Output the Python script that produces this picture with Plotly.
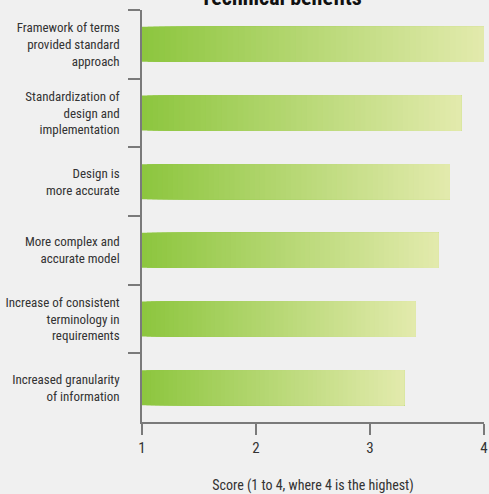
import plotly.graph_objects as go

categories = [
    "Framework of terms<br>provided standard<br>approach",
    "Standardization of<br>design and<br>implementation",
    "Design is<br>more accurate",
    "More complex and<br>accurate model",
    "Increase of consistent<br>terminology in<br>requirements",
    "Increased granularity<br>of information",
]
scores = [4.0, 3.8, 3.7, 3.6, 3.4, 3.3]
x_ticks = [1, 2, 3, 4]
title_text = "Technical benefits"
x_title = "Score (1 to 4, where 4 is the highest)"

BASE = 1.0
N = 60
c0 = (141, 198, 63)
c1 = (226, 234, 172)
FONT = "Liberation Sans Narrow, Arial Narrow, Roboto Condensed, DejaVu Sans Condensed, sans-serif"

fig = go.Figure()
for k in range(N):
    t = k / (N - 1)
    col = "rgb({},{},{})".format(*[round(a + (b - a) * t) for a, b in zip(c0, c1)])
    fig.add_trace(go.Bar(
        y=categories,
        x=[(v - BASE) * (1 - k / N) for v in scores],
        base=[BASE + (v - BASE) * k / N for v in scores],
        orientation="h",
        width=0.51,
        marker=dict(color=col, line=dict(width=0)),
        hoverinfo="skip",
        showlegend=False,
    ))

fig.update_layout(
    width=489, height=494,
    margin=dict(l=142, r=5, t=10, b=72, autoexpand=False),
    paper_bgcolor="#f0f0f0",
    plot_bgcolor="#f0f0f0",
    barmode="overlay",
    font=dict(family=FONT, color="#333333", size=13),
    title=dict(
        text="<b>" + title_text + "</b>",
        x=281 / 489, xanchor="center", xref="container",
        y=1 - 5 / 494, yanchor="bottom", yref="container",
        font=dict(family=FONT, size=22, color="#111111"),
    ),
)
fig.update_xaxes(
    range=[1, 4], tickvals=x_ticks, ticktext=[str(v) for v in x_ticks],
    automargin=False,
    showgrid=False, zeroline=False,
    showline=True, linecolor="#7a7a7a", linewidth=1.5,
    ticks="outside", ticklen=11, tickcolor="#7a7a7a", tickwidth=1.5,
    tickfont=dict(size=15, color="#333333"),
    ticklabeloverflow="allow",
    title=dict(text=x_title, font=dict(size=14, color="#333333"), standoff=26),
)
fig.update_yaxes(
    categoryorder="array", categoryarray=categories, autorange="reversed",
    automargin=False,
    showgrid=False, zeroline=False,
    showline=True, linecolor="#7a7a7a", linewidth=1.5,
    ticks="outside", tickson="boundaries", ticklen=12,
    tickcolor="#7a7a7a", tickwidth=1.5,
    tickfont=dict(size=13, color="#333333"),
    ticklabelstandoff=18,
)

fig.write_html(
    "out.html",
    config={"displayModeBar": False},
    post_script="document.body.style.margin='0';document.body.style.overflow='hidden';",
)
